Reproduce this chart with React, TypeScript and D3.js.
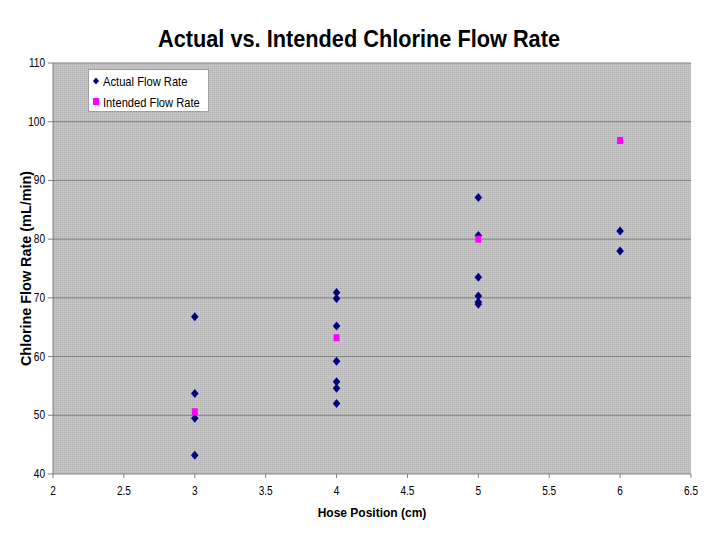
import React from "react";
import * as d3 from "d3";

const actualX = [3, 3, 3, 3, 4, 4, 4, 4, 4, 4, 4, 5, 5, 5, 5, 5, 5, 6, 6];
const actualY = [66.8, 53.7, 49.5, 43.2, 70.9, 69.9, 65.2, 59.2, 55.7, 54.6, 52.0, 87.1, 80.6, 73.5, 70.3, 69.3, 68.9, 81.4, 78.0];
const intendedX = [3, 4, 5, 6];
const intendedY = [50.6, 63.2, 80.0, 96.8];
const xTicks = [2, 2.5, 3, 3.5, 4, 4.5, 5, 5.5, 6, 6.5];
const yTicks = [40, 50, 60, 70, 80, 90, 100, 110];

const W = 720, H = 540;
const L = 53, R = 691, T = 63, B = 474;

const font = "'Liberation Sans', Arial, sans-serif";

function NText(props: { x: number; y: number; anchor?: string; size: number; sx?: number; bold?: boolean; children: any }) {
  const sx = props.sx ?? 0.84;
  return (
    <text
      transform={`translate(${props.x},${props.y}) scale(${sx},1)`}
      textAnchor={props.anchor ?? "start"}
      fontFamily={font}
      fontWeight={props.bold ? "bold" : "normal"}
      fontSize={props.size}
      fill="#000"
    >
      {props.children}
    </text>
  );
}

export default function App() {
  const x = d3.scaleLinear().domain([2, 6.5]).range([L, R]);
  const y = d3.scaleLinear().domain([40, 110]).range([B, T]);
  const diamond = "M0,-4.5L3.8,0L0,4.5L-3.8,0Z";
  return (
    <svg width={W} height={H} style={{ position: "absolute", left: 0, top: 0, background: "#fff" }}>
      <defs>
        <pattern id="dither" width="2" height="2" patternUnits="userSpaceOnUse">
          <rect width="2" height="2" fill="#c0c0c0" />
          <rect width="1" height="1" fill="#b6b6b6" />
          <rect x="1" y="1" width="1" height="1" fill="#c9c9c9" />
        </pattern>
      </defs>
      <text x={158} y={47} textLength={402} lengthAdjust="spacingAndGlyphs" fontFamily={font} fontWeight="bold" fontSize={24} fill="#000">
        Actual vs. Intended Chlorine Flow Rate
      </text>
      <rect x={L} y={T} width={R - L} height={B - T} fill="url(#dither)" />
      {yTicks.map((t) => (
        <g key={"y" + t}>
          {t !== 40 && <line x1={L} x2={R} y1={y(t)} y2={y(t)} stroke="#808080" strokeWidth={1} />}
          <line x1={L - 5} x2={L} y1={y(t)} y2={y(t)} stroke="#808080" />
          <NText x={L - 8} y={y(t) + 4} anchor="end" size={12}>
            {t}
          </NText>
        </g>
      ))}
      {xTicks.map((t) => (
        <g key={"x" + t}>
          <line x1={x(t)} x2={x(t)} y1={B} y2={B + 4} stroke="#808080" />
          <NText x={x(t)} y={B + 21} anchor="middle" size={12}>
            {t}
          </NText>
        </g>
      ))}
      <line x1={L} x2={R} y1={B} y2={B} stroke="#808080" />
      <line x1={L} x2={L} y1={T} y2={B} stroke="#808080" />
      <text x={372} y={517} textAnchor="middle" fontFamily={font} fontWeight="bold" fontSize={12} fill="#000">
        Hose Position (cm)
      </text>
      <text transform={`translate(31,${(T + B) / 2}) rotate(-90)`} textAnchor="middle" fontFamily={font} fontWeight="bold" fontSize={14.4} fill="#000">
        Chlorine Flow Rate (mL/min)
      </text>
      {actualX.map((v, i) => (
        <path key={"a" + i} d={diamond} transform={`translate(${x(v)},${y(actualY[i])})`} fill="#000080" />
      ))}
      {intendedX.map((v, i) => (
        <rect key={"b" + i} x={x(v) - 3} y={y(intendedY[i]) - 3.5} width={6} height={7} fill="#ff00ff" />
      ))}
      <rect x={88.5} y={69.5} width={120} height={42} fill="#fff" stroke="#a0a0a0" />
      <path d={diamond} transform="translate(96,81) scale(0.8)" fill="#000080" />
      <NText x={103} y={85.5} size={13} sx={0.86}>Actual Flow Rate</NText>
      <rect x={93} y={98} width={6} height={7} fill="#ff00ff" />
      <NText x={103} y={106.5} size={13} sx={0.86}>Intended Flow Rate</NText>
    </svg>
  );
}
